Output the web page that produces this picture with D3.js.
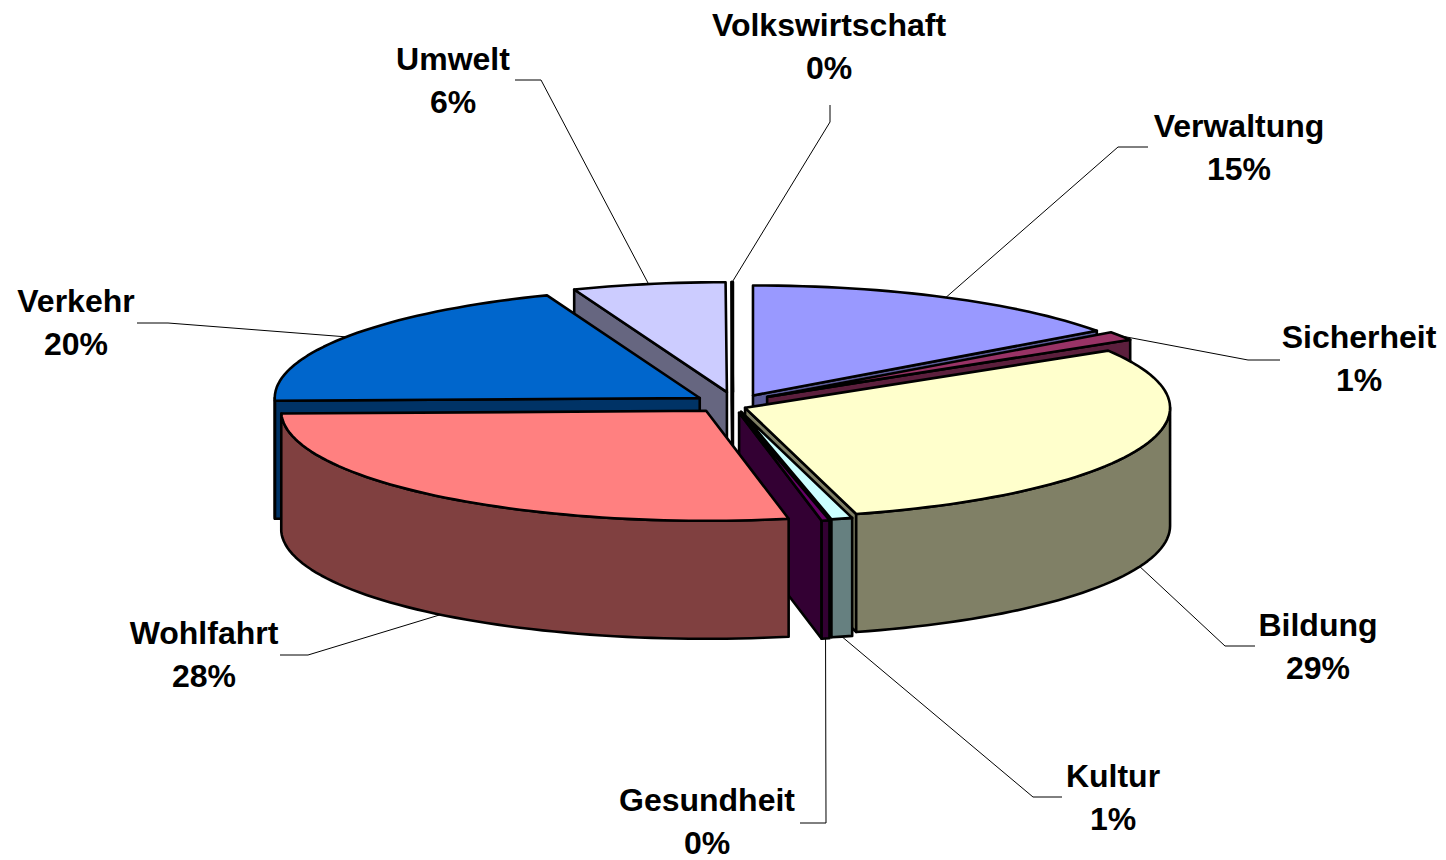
<!DOCTYPE html>
<html>
<head>
<meta charset="utf-8">
<script src="https://d3js.org/d3.v7.min.js"></script>
<style>
html,body{margin:0;padding:0;background:#fff;overflow:hidden}
svg{display:block}
text{font-family:"Liberation Sans",Arial,sans-serif;font-weight:bold;font-size:32px;fill:#000;text-anchor:middle}
</style>
</head>
<body>
<svg id="chart" width="1446" height="860"></svg>
<script>
// Data (clockwise from 12 o'clock)
const categories = ["Verwaltung","Sicherheit","Bildung","Kultur","Gesundheit","Wohlfahrt","Verkehr","Umwelt","Volkswirtschaft"];
const values = [15, 1.3, 29.49, 0.8, 0.3, 27.71, 19.55, 5.8, 0.05];
// Style
const topColors = ["#9999FF","#993366","#FFFFCC","#CCFFFF","#660066","#FF8080","#0066CC","#CCCCFF","#FFFFFF"];
const sideColors = ["#5C5C99","#5C1F3D","#808066","#668080","#330033","#804040","#003366","#666680","#808080"];
// Explosion per slice, in px along the projected radius
const explodeX = [44,41,13,34,30,43,40,33,44];
const explodeY = [8.5,11,13,9,10,10,9,11,11];
// Painter's order, back to front
const drawOrder = ["Volkswirtschaft","Umwelt","Verwaltung","Verkehr","Sicherheit","Bildung","Kultur","Gesundheit","Wohlfahrt"];
// Label layout: centre x, first baseline, leader elbow
const labelX = [1239,1359,1318,1113,707,204,76,453,829];
const labelY = [137,348,636,787,811,644,312,70,36];
const leaderStart = [[1148,147],[1280,360],[1255,646],[1062,797],[800,823],[280,655],[137,323],[515,80],[830,105]];
const leaderElbow = [[1118,147],[1248,360],[1225,646],[1033,797],[826,823],[308,655],[168,323],[541,80],[830,122]];

const cx = 733, cy = 403, rx = 425, ry = 110, depth = 118, lineGap = 42.5;
const svg = d3.select("#chart");
const pct = d3.format(".0%");
const total = d3.sum(values);

const arcs = d3.pie().sort(null).value(d => d)(values);
const slices = arcs.map((a,i) => {
  const mid = (a.startAngle + a.endAngle) / 2;
  return {
    name: categories[i], i, t0: a.startAngle, t1: a.endAngle, mid,
    ax: cx + Math.sin(mid) * explodeX[i],
    ay: cy - Math.cos(mid) * explodeY[i]
  };
});
const pt = (s,t,dz=0) => [s.ax + rx*Math.sin(t), s.ay - ry*Math.cos(t) + dz];
const arcPts = (s,a,b,dz=0) => {
  const n = Math.max(2, Math.ceil(Math.abs(b-a)/0.03));
  return d3.range(n+1).map(k => pt(s, a + (b-a)*k/n, dz));
};
const line = d3.line().curve(d3.curveLinear);
const closed = p => line(p) + "Z";
const gSlices = svg.append("g").attr("stroke","#000").attr("stroke-width",2.6).attr("stroke-linejoin","round");

const PI = Math.PI;
drawOrder.forEach(name => {
  const s = slices.find(d => d.name === name);
  const g = gSlices.append("g").attr("class","slice");
  const side = sideColors[s.i];
  // radial faces facing the viewer
  const face = t => {
    const e = pt(s,t);
    g.append("path").attr("fill",side).attr("d",closed([[s.ax,s.ay],e,[e[0],e[1]+depth],[s.ax,s.ay+depth]]));
  };
  if (s.t0 > PI) face(s.t0);
  if (s.t1 < PI) face(s.t1);
  // outer rim, front half only
  const a = Math.max(s.t0, PI/2), b = Math.min(s.t1, 3*PI/2);
  if (b > a) {
    g.append("path").attr("fill",side)
     .attr("d",closed(arcPts(s,a,b).concat(arcPts(s,b,a,depth))));
  }
  // top
  g.append("path").attr("fill",topColors[s.i])
   .attr("d",closed([[s.ax,s.ay]].concat(arcPts(s,s.t0,s.t1))));
});

// leaders and labels
slices.forEach(s => {
  const front = Math.cos(s.mid) < 0;
  const end = pt(s, s.mid, front ? depth : 0);
  svg.append("path").attr("fill","none").attr("stroke","#000").attr("stroke-width",1)
     .attr("d",line([leaderStart[s.i],leaderElbow[s.i],end]));
  const t = svg.append("text").attr("x",labelX[s.i]).attr("y",labelY[s.i]);
  t.append("tspan").attr("x",labelX[s.i]).text(s.name);
  t.append("tspan").attr("x",labelX[s.i]).attr("dy",lineGap).text(pct(values[s.i]/total));
});
</script>
</body>
</html>
